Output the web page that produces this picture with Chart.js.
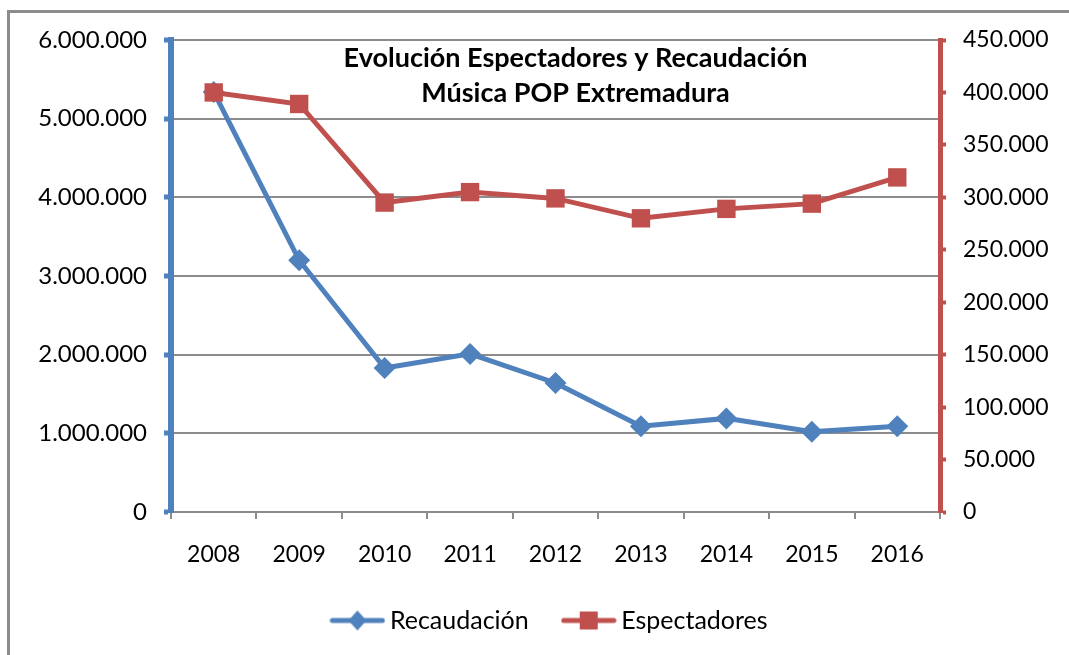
<!DOCTYPE html>
<html>
<head>
<meta charset="utf-8">
<script src="https://cdn.jsdelivr.net/npm/chart.js@4"></script>
<style>
  html, body { margin: 0; padding: 0; background: #fff; }
  #wrap { position: relative; width: 1069px; height: 655px; }
  #frame { position: absolute; left: 7px; top: 10px; width: 1080px; height: 700px;
           border-left: 3px solid #8c8c8c; border-top: 3px solid #8c8c8c; }
  canvas { position: absolute; left: 0; top: 0; }
</style>
</head>
<body>
<div id="wrap">
  <div id="frame"></div>
  <canvas id="c" width="1069" height="655"></canvas>
</div>
<script>
const years = ['2008','2009','2010','2011','2012','2013','2014','2015','2016'];
const recaudacion = [5340000, 3200000, 1830000, 2010000, 1640000, 1090000, 1190000, 1020000, 1090000];
const espectadores = [400000, 389000, 295000, 305000, 299000, 280000, 289000, 294000, 319000];
const titleLines = ['Evolución Espectadores y Recaudación', 'Música POP Extremadura'];
const seriesNames = ['Recaudación', 'Espectadores'];

const BLUE = '#4F81BD';
const RED = '#C0504D';
const GRID = '#8c8c8c';
const FONT = 'Lato, "Open Sans", sans-serif';

function fmt(v) {
  return String(Math.round(v)).replace(/\B(?=(\d{3})+(?!\d))/g, '.');
}

function legendIcon(color, style) {
  const c = document.createElement('canvas');
  c.width = 56; c.height = 24;
  const g = c.getContext('2d');
  g.strokeStyle = color; g.lineWidth = 5; g.lineCap = 'round';
  g.beginPath(); g.moveTo(3, 12); g.lineTo(53, 12); g.stroke();
  g.fillStyle = color;
  g.beginPath();
  if (style === 'diamond') {
    g.moveTo(28, 2); g.lineTo(37, 12); g.lineTo(28, 22); g.lineTo(19, 12); g.closePath();
  } else {
    g.rect(19, 3, 18, 18);
  }
  g.fill();
  return c;
}

const titlePlugin = {
  id: 'inTitle',
  afterDraw(chart) {
    const ctx = chart.ctx;
    const a = chart.chartArea;
    ctx.save();
    ctx.fillStyle = '#000';
    ctx.font = 'bold 27px ' + FONT;
    ctx.textAlign = 'center';
    ctx.textBaseline = 'middle';
    const cx = a.left + (a.right - a.left) * 0.526;
    ctx.fillText(titleLines[0], cx, a.top + 18);
    ctx.fillText(titleLines[1], cx, a.top + 53);
    ctx.restore();
  }
};

new Chart(document.getElementById('c'), {
  type: 'line',
  data: {
    labels: years,
    datasets: [
      {
        label: seriesNames[0],
        data: recaudacion,
        yAxisID: 'y',
        borderColor: BLUE,
        backgroundColor: BLUE,
        borderWidth: 5,
        pointStyle: 'rectRot',
        pointRadius: 11,
        pointBorderWidth: 0,
        tension: 0,
        order: 1
      },
      {
        label: seriesNames[1],
        data: espectadores,
        yAxisID: 'y1',
        borderColor: RED,
        backgroundColor: RED,
        borderWidth: 5,
        pointStyle: 'rect',
        pointRadius: 13,
        pointBorderWidth: 0,
        tension: 0,
        order: 0
      }
    ]
  },
  options: {
    responsive: false,
    animation: false,
    devicePixelRatio: 1,
    layout: { padding: { top: 40, left: 36, right: 0, bottom: 12 } },
    plugins: {
      tooltip: { enabled: false },
      title: { display: false },
      legend: {
        position: 'bottom',
        labels: {
          font: { family: FONT, size: 25 },
          color: '#000',
          usePointStyle: true,
          pointStyleWidth: 40,
          padding: 40,
          generateLabels() {
            return [
              { text: seriesNames[0], pointStyle: legendIcon(BLUE, 'diamond'), fillStyle: BLUE, strokeStyle: BLUE, lineWidth: 0, datasetIndex: 0, fontColor: '#000' },
              { text: seriesNames[1], pointStyle: legendIcon(RED, 'square'), fillStyle: RED, strokeStyle: RED, lineWidth: 0, datasetIndex: 1, fontColor: '#000' }
            ];
          }
        }
      }
    },
    scales: {
      x: {
        offset: true,
        border: { color: GRID, width: 2 },
        grid: { drawOnChartArea: false, color: GRID, lineWidth: 2, tickLength: 7, offset: true },
        ticks: { font: { family: FONT, size: 23 }, color: '#000', padding: 22, maxRotation: 0 },
        afterFit(s) { s.height = 56; }
      },
      y: {
        position: 'left',
        min: 0, max: 6000000,
        border: { color: BLUE, width: 6 },
        grid: { color: GRID, lineWidth: 2, tickColor: BLUE, tickWidth: 5, tickLength: 7 },
        ticks: { stepSize: 1000000, font: { family: FONT, size: 24 }, color: '#000', padding: 17, callback: v => fmt(v) },
        afterFit(s) { s.width = 135; }
      },
      y1: {
        position: 'right',
        min: 0, max: 450000,
        border: { color: RED, width: 5 },
        grid: { drawOnChartArea: false, tickColor: RED, tickWidth: 4, tickLength: 6 },
        ticks: { stepSize: 50000, font: { family: FONT, size: 23 }, color: '#000', padding: 17, callback: v => fmt(v) },
        afterFit(s) { s.width = 129; }
      }
    }
  },
  plugins: [titlePlugin]
});
</script>
</body>
</html>
